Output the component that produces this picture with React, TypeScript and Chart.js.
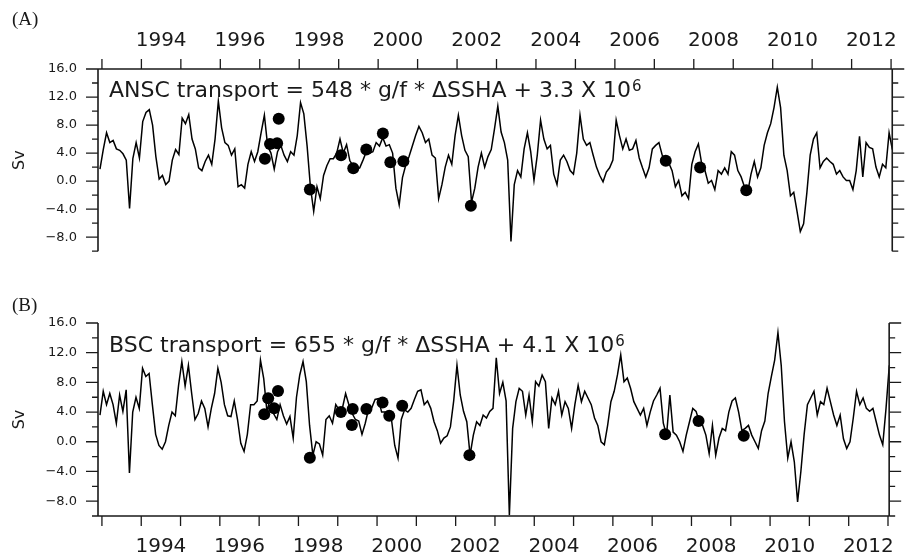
import React, { useEffect, useRef } from 'react';
import { Chart, registerables } from 'chart.js';

Chart.register(...registerables);

// monthly series, first value Dec 1992
const START_YEAR = 1992.95;
const STEP = 1 / 12;

const ANSC = [
  1.7, 4.5, 6.9, 5.5, 5.8, 4.6, 4.4, 3.9, 3.0, -3.9,
  3.2, 5.5, 3.3, 8.5, 9.8, 10.2, 8.0, 3.5, 0.3, 0.8,
  -0.5, 0.0, 3.0, 4.5, 3.8, 9.0, 8.2, 9.5, 6.0, 4.6,
  1.9, 1.5, 2.8, 3.7, 2.4, 6.0, 11.4, 7.6, 5.5, 5.1,
  3.7, 4.6, -0.8, -0.5, -1.0, 2.4, 4.2, 2.8, 4.2, 6.9,
  9.4, 5.0, 4.0, 1.7, 4.2, 5.1, 3.7, 2.8, 4.2, 3.7,
  6.5, 11.2, 9.6, 5.0, -0.8, -4.3, -0.8, -2.5, 0.8, 2.2,
  3.2, 3.2, 4.0, 6.0, 4.0, 5.2, 2.9, 2.2, 1.7, 1.9,
  3.0, 4.2, 4.0, 4.2, 5.5, 5.0, 6.2, 5.0, 5.2, 4.0,
  -1.0, -3.4, 0.5, 2.3, 3.5, 5.0, 6.5, 7.8, 6.9, 5.5,
  6.0, 3.7, 3.3, -2.5, -0.5, 2.0, 3.7, 2.4, 6.5, 9.4,
  6.5, 4.4, 3.5, -3.0, -1.0, 2.0, 4.0, 2.0, 3.5, 4.5,
  7.5, 10.7, 7.0, 5.5, 3.0, -8.6, -0.5, 1.5, 0.6, 4.6,
  6.9, 4.2, 0.1, 3.7, 8.7, 6.0, 4.6, 5.1, 1.0, -0.5,
  3.0, 3.7, 2.8, 1.5, 1.0, 4.0, 9.4, 6.0, 5.1, 5.5,
  3.7, 2.0, 0.8, -0.1, 1.3, 1.9, 3.0, 8.7, 6.5, 4.6,
  6.0, 4.4, 4.6, 5.8, 3.3, 1.9, 0.6, 1.9, 4.6, 5.1,
  5.5, 3.7, 3.0, 2.6, 1.5, -0.8, 0.1, -2.1, -1.6, -2.5,
  2.4, 4.2, 5.3, 2.5, 1.5, -0.3, 0.1, -1.2, 1.5, 1.0,
  1.9, 1.0, 4.2, 3.7, 1.5, 0.6, -0.8, -1.6, 1.0, 2.8,
  0.6, 1.9, 5.1, 6.9, 8.2, 10.5, 13.4, 10.5, 3.7, 1.5,
  -2.1, -1.6, -4.3, -7.2, -6.1, -1.6, 3.7, 6.0, 6.9, 1.9,
  2.8, 3.3, 2.8, 2.4, 1.0, 1.5, 0.6, 0.1, 0.1, -1.2,
  1.5, 6.4, 0.6, 5.5, 4.8, 4.6, 2.0, 0.6, 2.4, 1.9,
  6.9, 4.5,
];

const BSC = [
  3.6, 6.8, 5.0, 6.5, 5.0, 2.5, 6.3, 4.1, 7.0, -4.2,
  4.0, 6.0, 4.5, 9.9, 8.8, 9.2, 5.0, 1.0, -0.5, -1.0,
  0.0, 2.2, 4.0, 3.5, 7.6, 10.8, 7.5, 10.3, 6.5, 3.0,
  3.8, 5.5, 4.5, 2.0, 4.5, 6.5, 9.9, 8.0, 5.0, 3.5,
  3.4, 5.5, 3.0, -0.2, -1.3, 1.0, 5.0, 5.0, 5.5, 11.0,
  8.5, 4.0, 6.0, 3.8, 3.0, 5.0, 3.5, 2.4, 3.4, 0.5,
  6.0, 9.0, 10.8, 8.1, 2.2, -1.8, 0.0, -0.3, -1.8, 3.0,
  3.5, 2.5, 5.0, 4.3, 4.5, 6.5, 5.0, 3.8, 3.0, 2.8,
  1.0, 2.5, 4.4, 4.6, 5.7, 5.8, 4.0, 4.0, 3.8, 3.0,
  -0.5, -2.2, 3.0, 4.3, 4.0, 4.5, 5.7, 6.8, 7.0, 5.0,
  5.5, 4.5, 2.7, 1.5, -0.2, 0.5, 0.8, 2.0, 5.5, 10.3,
  6.3, 4.1, 2.7, -1.8, 0.9, 2.7, 2.2, 3.6, 3.2, 4.1,
  4.5, 11.3, 6.5, 8.0, 5.5, -9.9, 1.8, 5.4, 7.2, 6.8,
  3.6, 6.3, 2.7, 8.1, 7.5, 9.0, 8.1, 1.8, 5.9, 5.0,
  6.8, 3.6, 5.4, 4.5, 1.8, 5.0, 7.6, 5.4, 6.8, 5.9,
  5.0, 3.2, 2.2, 0.0, -0.4, 2.2, 5.4, 6.8, 9.0, 11.7,
  8.1, 8.6, 7.2, 5.4, 4.5, 3.6, 4.5, 2.2, 4.0, 5.5,
  6.3, 7.2, 2.5, 0.9, 6.3, 1.3, 0.9, 0.0, -1.3, 0.9,
  2.7, 4.5, 4.1, 2.7, 2.2, 0.9, -1.6, 2.2, -1.8, 0.5,
  1.8, 1.5, 4.0, 5.5, 5.9, 4.0, 1.5, 1.8, 2.2, 0.9,
  0.0, -0.9, 1.5, 2.8, 6.5, 8.8, 11.0, 14.7, 10.3, 2.7,
  -2.2, 0.0, -2.7, -8.1, -4.0, 1.0, 5.0, 5.9, 6.8, 3.6,
  5.4, 5.0, 7.2, 5.4, 3.6, 2.2, 3.6, 0.4, -0.9, 0.0,
  3.2, 6.8, 5.0, 5.9, 4.5, 4.1, 4.5, 2.7, 0.9, -0.4,
  4.5, 10.3,
];

// observed (moored) transports
const ANSC_OBS_YEARS = [1997.13, 1997.26, 1997.44, 1997.48, 1998.27, 1999.06, 1999.37, 1999.70, 2000.12, 2000.31, 2000.64, 2002.35, 2007.29, 2008.16, 2009.33];
const ANSC_OBS = [3.2, 5.3, 5.4, 8.9, -1.2, 3.7, 1.85, 4.5, 6.8, 2.7, 2.85, -3.5, 2.9, 1.95, -1.3];
const BSC_OBS_YEARS = [1997.13, 1997.23, 1997.38, 1997.48, 1998.29, 1999.08, 1999.38, 1999.36, 1999.73, 2000.14, 2000.31, 2000.64, 2002.35, 2007.33, 2008.18, 2009.33];
const BSC_OBS = [3.7, 5.85, 4.5, 6.85, -2.15, 4.0, 4.4, 2.25, 4.4, 5.3, 3.5, 4.85, -1.8, 1.0, 2.8, 0.8];

const YEAR_TICKS = [1993, 1994, 1995, 1996, 1997, 1998, 1999, 2000, 2001, 2002, 2003, 2004, 2005, 2006, 2007, 2008, 2009, 2010, 2011, 2012, 2013];
const YEAR_LABELS = [1994, 1996, 1998, 2000, 2002, 2004, 2006, 2008, 2010, 2012];
const Y_TICKS = [-10, -8, -6, -4, -2, 0, 2, 4, 6, 8, 10, 12, 14, 16];
const Y_MIN = -10;
const Y_MAX = 16;
const X_MIN = 1992.9;
const X_MAX = 2013.03;

const FONT = '"DejaVu Sans", sans-serif';
const INK = '#1a1a1a';

function series(values: number[]) {
  return values.map((v, i) => ({ x: START_YEAR + i * STEP, y: v }));
}
function obs(years: number[], values: number[]) {
  return years.map((t, i) => ({ x: t, y: values[i] }));
}

function framePlugin(side: 'top' | 'bottom', tag: string, tagY: number, eq: string, eqY: number) {
  return {
    id: 'frame' + side,
    afterDraw(chart: any) {
      const { ctx, chartArea } = chart;
      const { left, right, top, bottom } = chartArea;
      const xs = chart.scales.x;
      const ys = chart.scales.y;
      ctx.save();
      ctx.strokeStyle = INK;
      ctx.lineWidth = 1.6;
      ctx.beginPath();
      ctx.moveTo(left, top);
      ctx.lineTo(left, bottom);
      ctx.moveTo(right, top);
      ctx.lineTo(right, bottom);
      const ey = side === 'top' ? top : bottom;
      ctx.moveTo(left, ey);
      ctx.lineTo(right, ey);
      ctx.stroke();
      ctx.lineWidth = 1.3;
      ctx.beginPath();
      YEAR_TICKS.forEach((t) => {
        const px = xs.getPixelForValue(t);
        ctx.moveTo(px, ey);
        ctx.lineTo(px, ey + (side === 'top' ? -10 : 10));
      });
      Y_TICKS.forEach((v) => {
        const py = ys.getPixelForValue(v);
        const len = v % 4 === 0 ? 12 : 6;
        ctx.moveTo(left, py);
        ctx.lineTo(left - len, py);
        ctx.moveTo(right, py);
        ctx.lineTo(right + len, py);
      });
      ctx.stroke();

      ctx.fillStyle = INK;
      ctx.textAlign = 'left';
      ctx.textBaseline = 'middle';
      ctx.font = '19px "Liberation Serif", serif';
      ctx.fillText(tag, 12, tagY);

      ctx.textBaseline = 'alphabetic';
      ctx.font = '22px ' + FONT;
      ctx.fillText(eq, 109, eqY);
      const w = ctx.measureText(eq).width;
      ctx.font = '15px ' + FONT;
      ctx.fillText('6', 109 + w + 1, eqY - 6);
      ctx.restore();
    },
  };
}

function makeConfig(side: 'top' | 'bottom', line: number[], oy: number[], ov: number[], plugin: any, padding: any, axisH: number, labelPad: number) {
  return {
    type: 'line' as const,
    data: {
      datasets: [
        {
          type: 'scatter' as const,
          data: obs(oy, ov),
          backgroundColor: '#000',
          borderWidth: 0,
          pointRadius: 6,
          showLine: false,
        },
        {
          type: 'line' as const,
          data: series(line),
          borderColor: '#000',
          borderWidth: 1.5,
          pointRadius: 0,
          tension: 0,
          fill: false,
        },
      ],
    },
    options: {
      responsive: false,
      animation: false as const,
      devicePixelRatio: 1,
      layout: { padding },
      plugins: { legend: { display: false }, tooltip: { enabled: false } },
      scales: {
        x: {
          type: 'linear' as const,
          position: side,
          min: X_MIN,
          max: X_MAX,
          grid: { display: false, drawTicks: false },
          border: { display: false },
          afterBuildTicks: (s: any) => {
            s.ticks = YEAR_LABELS.map((y) => ({ value: y + 0.5 }));
          },
          afterFit: (s: any) => {
            s.height = axisH;
          },
          ticks: {
            autoSkip: false,
            maxRotation: 0,
            padding: labelPad,
            color: INK,
            font: { family: FONT, size: 20 },
            callback: (v: any) => String(Math.floor(Number(v))),
          },
        },
        y: {
          type: 'linear' as const,
          position: 'left' as const,
          min: Y_MIN,
          max: Y_MAX,
          grid: { display: false, drawTicks: false },
          border: { display: false },
          afterBuildTicks: (s: any) => {
            s.ticks = Y_TICKS.map((v) => ({ value: v }));
          },
          afterFit: (s: any) => {
            s.width = 98;
          },
          title: {
            display: true,
            text: 'Sv',
            color: INK,
            padding: { top: 10, bottom: 0 },
            font: { family: FONT, size: 16 },
          },
          ticks: {
            autoSkip: false,
            padding: 21,
            color: INK,
            font: { family: FONT, size: 13 },
            callback: (v: any) => {
              const n = Number(v);
              if (n % 4 !== 0) return '';
              const s = Math.abs(n).toFixed(1);
              return n < 0 ? '\u2212' + s : s;
            },
          },
        },
      },
    },
    plugins: [plugin],
  };
}

export default function App() {
  const refA = useRef<HTMLCanvasElement>(null);
  const refB = useRef<HTMLCanvasElement>(null);

  useEffect(() => {
    const a = new Chart(
      refA.current as HTMLCanvasElement,
      makeConfig(
        'top',
        ANSC,
        ANSC_OBS_YEARS,
        ANSC_OBS,
        framePlugin('top', '(A)', 20, 'ANSC transport = 548 * g/f * \u0394SSHA + 3.3 X 10', 97),
        { top: 0, left: 0, right: 8, bottom: 18 },
        69,
        16
      ) as any
    );
    const b = new Chart(
      refB.current as HTMLCanvasElement,
      makeConfig(
        'bottom',
        BSC,
        BSC_OBS_YEARS,
        BSC_OBS,
        framePlugin('bottom', '(B)', 26, 'BSC transport = 655 * g/f * \u0394SSHA + 4.1 X 10', 72),
        { top: 43, left: 0, right: 8, bottom: 0 },
        39,
        19
      ) as any
    );
    return () => {
      a.destroy();
      b.destroy();
    };
  }, []);

  return (
    <div style={{ position: 'fixed', left: 0, top: 0, width: 913, height: 555, background: '#fff' }}>
      <canvas ref={refA} width={913} height={280} style={{ position: 'absolute', left: 0, top: 0, display: 'block' }} />
      <canvas ref={refB} width={913} height={275} style={{ position: 'absolute', left: 0, top: 280, display: 'block' }} />
    </div>
  );
}
